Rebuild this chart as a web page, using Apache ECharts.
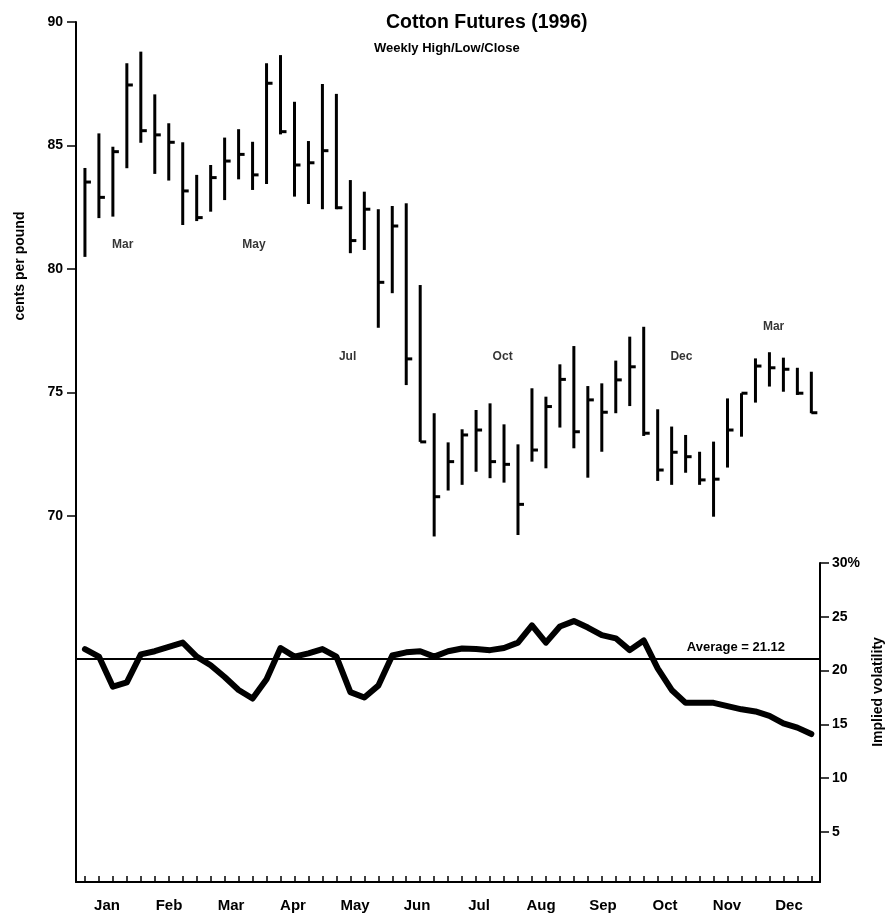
<!DOCTYPE html>
<html>
<head>
<meta charset="utf-8">
<script src="https://cdn.jsdelivr.net/npm/echarts@6/dist/echarts.min.js"></script>
<style>html,body{margin:0;padding:0;background:#fff;}#c{width:890px;height:920px;}</style>
</head>
<body>
<div id="c"></div>
<script>
// ---- data ----
const months = ['Jan','Feb','Mar','Apr','May','Jun','Jul','Aug','Sep','Oct','Nov','Dec'];
const highs  = [84.09,85.49,84.95,88.33,88.8,87.07,85.9,85.13,83.81,84.21,85.32,85.66,85.15,88.33,88.66,86.77,85.18,87.49,87.09,83.6,83.13,82.42,82.55,82.66,79.35,74.16,72.98,73.51,74.29,74.56,73.71,72.9,75.17,74.83,76.14,76.88,75.26,75.37,76.29,77.26,77.66,74.32,73.62,73.28,72.6,73.01,74.76,74.97,76.38,76.63,76.41,76.0,75.84];
const lows   = [80.49,82.06,82.12,84.08,85.11,83.85,83.58,81.78,81.94,82.32,82.79,83.63,83.2,83.44,85.45,82.93,82.63,82.42,82.42,80.64,80.77,77.62,79.02,75.3,73.0,69.17,71.03,71.26,71.79,71.53,71.35,69.23,72.2,71.93,73.58,72.74,71.55,72.6,74.16,74.45,73.24,71.42,71.26,71.75,71.26,69.97,71.96,73.21,74.59,75.24,75.03,74.9,74.16];
const closes = [83.52,82.9,84.75,87.45,85.6,85.43,85.13,83.16,82.08,83.7,84.37,84.64,83.81,87.52,85.56,84.21,84.3,84.79,82.48,81.15,82.42,79.46,81.74,76.36,73.0,70.78,72.2,73.28,73.48,72.2,72.09,70.47,72.67,74.43,75.53,73.41,74.7,74.2,75.51,76.04,73.35,71.86,72.58,72.4,71.46,71.49,73.48,74.97,76.07,76.0,75.94,74.97,74.18];
const volatility = [22.0,21.3,18.5,18.9,21.5,21.8,22.2,22.6,21.3,20.5,19.4,18.2,17.4,19.2,22.1,21.3,21.6,22.0,21.3,18.0,17.5,18.6,21.4,21.7,21.8,21.3,21.8,22.05,22.0,21.9,22.1,22.6,24.2,22.6,24.1,24.6,24.0,23.3,23.0,21.9,22.8,20.2,18.2,17.0,17.0,17.0,16.7,16.4,16.2,15.8,15.1,14.7,14.1];
const averageVol = 21.12;
const priceTicks = [70,75,80,85,90];
const volTicks = [5,10,15,20,25,30];
const contractLabels = ['Mar','May','Jul','Oct','Dec','Mar'];
const contractWeeks  = [2.7,12.1,18.8,29.9,42.7,49.3];
const contractPrices = [81.0,81.0,76.44,76.44,76.44,77.65];

// ---- chart ----
const weeks = highs.map((_, i) => i);
const FONT = "'Liberation Sans', Arial, sans-serif";
const chart = echarts.init(document.getElementById('c'), null, {renderer:'canvas'});

const hlcData = weeks.map(i => [i, highs[i], lows[i], closes[i]]);
const volData = weeks.map(i => [i, volatility[i]]);
const annData = contractLabels.map((t, i) => ({name: t, value: [contractWeeks[i], contractPrices[i]]}));
const X_MIN = -0.64, X_MAX = 52.62;

chart.setOption({
  animation: false,
  backgroundColor: '#fff',
  title: [
    {text: 'Cotton Futures (1996)', left: 381, top: 8,
     textStyle: {fontFamily: FONT, fontSize: 19.5, fontWeight: 'bold', color: '#000'}},
    {text: 'Weekly High/Low/Close', left: 369, top: 37,
     textStyle: {fontFamily: FONT, fontSize: 13, fontWeight: 'bold', color: '#000'}}
  ],
  graphic: [
    {type: 'text', x: 20, y: 266, rotation: Math.PI / 2,
     style: {text: 'cents per pound', font: 'bold 14px ' + FONT, fill: '#000', align: 'center', verticalAlign: 'middle'}},
    {type: 'text', x: 878, y: 692, rotation: Math.PI / 2,
     style: {text: 'Implied volatility', font: 'bold 14px ' + FONT, fill: '#000', align: 'center', verticalAlign: 'middle'}}
  ],
  grid: [
    {left: 76, right: 70, top: 22, bottom: 38},
    {left: 76, right: 70, top: 563, bottom: 38}
  ],
  xAxis: [
    {type: 'value', gridIndex: 0, min: X_MIN, max: X_MAX, show: false},
    {type: 'value', gridIndex: 1, min: X_MIN, max: X_MAX,
     axisLine: {show: true, onZero: false, lineStyle: {color: '#000', width: 2}},
     axisTick: {show: true, inside: true, length: 6, customValues: weeks, lineStyle: {color: '#000', width: 1.5}},
     axisLabel: {show: false}, splitLine: {show: false}},
    {type: 'category', gridIndex: 1, data: months, position: 'bottom', boundaryGap: true,
     axisLine: {show: false, onZero: false}, axisTick: {show: false},
     axisLabel: {margin: 16, fontFamily: FONT, fontSize: 15, fontWeight: 'bold', color: '#000'},
     splitLine: {show: false}}
  ],
  yAxis: [
    {type: 'value', gridIndex: 0, position: 'left', min: 55.18, max: 90,
     axisLine: {show: true, onZero: false, lineStyle: {color: '#000', width: 2}},
     axisTick: {show: true, length: 9, customValues: priceTicks, lineStyle: {color: '#000', width: 1.5}},
     axisLabel: {customValues: priceTicks, margin: 13, fontFamily: FONT, fontSize: 14, fontWeight: 'bold', color: '#000'},
     splitLine: {show: false}},
    {type: 'value', gridIndex: 1, position: 'right', min: 0.35, max: 30,
     axisLine: {show: true, onZero: false, lineStyle: {color: '#000', width: 2}},
     axisTick: {show: true, length: 9, customValues: volTicks, lineStyle: {color: '#000', width: 1.5}},
     axisLabel: {customValues: volTicks, margin: 12, fontFamily: FONT, fontSize: 14, fontWeight: 'bold', color: '#000',
       formatter: v => v === 30 ? '30%' : String(v)},
     splitLine: {show: false}}
  ],
  series: [
    {type: 'custom', xAxisIndex: 0, yAxisIndex: 0, data: hlcData,
     encode: {x: 0, y: [1, 2, 3]},
     renderItem: function (params, api) {
       const hi = api.coord([api.value(0), api.value(1)]);
       const lo = api.coord([api.value(0), api.value(2)]);
       const cl = api.coord([api.value(0), api.value(3)]);
       return {type: 'group', children: [
         {type: 'line', shape: {x1: hi[0], y1: hi[1], x2: lo[0], y2: lo[1]}, style: {stroke: '#000', lineWidth: 3}},
         {type: 'line', shape: {x1: cl[0], y1: cl[1], x2: cl[0] + 6, y2: cl[1]}, style: {stroke: '#000', lineWidth: 3}}
       ]};
     }},
    {type: 'scatter', xAxisIndex: 0, yAxisIndex: 0, data: annData, symbolSize: 0, silent: true,
     label: {show: true, position: 'inside', formatter: p => p.name,
       fontFamily: FONT, fontSize: 12, fontWeight: 'bold', color: '#000'}},
    {type: 'line', xAxisIndex: 1, yAxisIndex: 1, data: volData, symbol: 'none', smooth: false,
     lineStyle: {color: '#000', width: 6, join: 'round', cap: 'round'},
     markLine: {silent: true, symbol: 'none',
       lineStyle: {color: '#000', width: 2, type: 'solid'},
       label: {show: true, position: 'insideEndTop', formatter: 'Average = ' + averageVol.toFixed(2),
         fontFamily: FONT, fontSize: 13, fontWeight: 'bold', color: '#000', padding: [0, 30, 0, 0]},
       data: [{yAxis: averageVol}]}}
  ]
});
</script>
</body>
</html>
